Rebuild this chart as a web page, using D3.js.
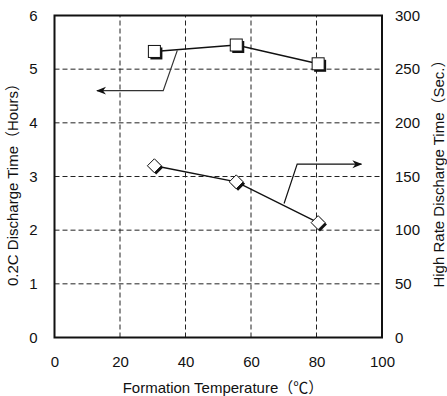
<!DOCTYPE html>
<html>
<head>
<meta charset="utf-8">
<script src="https://cdn.jsdelivr.net/npm/d3@7"></script>
<style>
  body { margin: 0; background: #fff; }
  text { font-family: "Liberation Sans", Arial, "Noto Sans CJK JP", sans-serif; fill: #111; }
</style>
</head>
<body>
<div id="chart"></div>
<script>
// formation temperature (°C)
const tempSquares = [30.5, 55.5, 80.5];
const hours = [5.33, 5.45, 5.1];
const tempDiamonds = [30.5, 55.5, 80.5];
const seconds = [160, 145, 107];

const xTicks = [0, 20, 40, 60, 80, 100];
const yLeftTicks = [0, 1, 2, 3, 4, 5, 6];
const yRightTicks = [0, 50, 100, 150, 200, 250, 300];

// leader lines: [x, y] in data units (left axis / right axis)
const leaderHours = [[37.5, 5.35], [33.2, 4.6], [13.0, 4.6]];
const leaderSec = [[70.1, 124.8], [74.1, 161.5], [93.7, 161.5]];

const width = 447, height = 396;
const margin = { top: 15.5, right: 65, bottom: 58.5, left: 54.5 };

const svg = d3.select('#chart').append('svg')
  .attr('width', width)
  .attr('height', height);

const x = d3.scaleLinear().domain([0, 100]).range([margin.left, width - margin.right]);
const yL = d3.scaleLinear().domain([0, 6]).range([height - margin.bottom, margin.top]);
const yR = d3.scaleLinear().domain([0, 300]).range([height - margin.bottom, margin.top]);

const defs = svg.append('defs');
defs.append('marker')
  .attr('id', 'arrow')
  .attr('viewBox', '0 0 10 10')
  .attr('refX', 9).attr('refY', 5)
  .attr('markerWidth', 10).attr('markerHeight', 10)
  .attr('markerUnits', 'userSpaceOnUse')
  .attr('orient', 'auto')
  .append('path')
  .attr('d', 'M0,1 L10,5 L0,9 L3,5 Z')
  .attr('fill', '#111');

// grid
const grid = svg.append('g');
xTicks.slice(1, -1).forEach(t => {
  grid.append('line')
    .attr('x1', x(t)).attr('x2', x(t))
    .attr('y1', yL(0)).attr('y2', yL(6))
    .attr('stroke', '#222').attr('stroke-dasharray', '5,3');
});
yLeftTicks.slice(1, -1).forEach(t => {
  grid.append('line')
    .attr('x1', x(0)).attr('x2', x(100))
    .attr('y1', yL(t)).attr('y2', yL(t))
    .attr('stroke', '#222').attr('stroke-dasharray', '5,3');
});

// axes
const fmt = d3.format('d');
const axisBottom = svg.append('g')
  .attr('transform', `translate(0,${yL(0)})`)
  .call(d3.axisBottom(x).tickValues(xTicks).tickFormat(fmt).tickSize(0).tickPadding(19));
const axisLeft = svg.append('g')
  .attr('transform', `translate(${x(0)},0)`)
  .call(d3.axisLeft(yL).tickValues(yLeftTicks).tickFormat(fmt).tickSize(0).tickPadding(17));
const axisRight = svg.append('g')
  .attr('transform', `translate(${x(100)},0)`)
  .call(d3.axisRight(yR).tickValues(yRightTicks).tickFormat(fmt).tickSize(0).tickPadding(13));
[axisBottom, axisLeft, axisRight].forEach(g => {
  g.select('.domain').remove();
  g.selectAll('text').style('font-size', '15px').attr('fill', '#111');
});

// frame
svg.append('rect')
  .attr('x', x(0)).attr('y', yL(6))
  .attr('width', x(100) - x(0)).attr('height', yL(0) - yL(6))
  .attr('fill', 'none').attr('stroke', '#111').attr('stroke-width', 2);

// series lines
const lineL = d3.line().x(d => x(d[0])).y(d => yL(d[1]));
const lineR = d3.line().x(d => x(d[0])).y(d => yR(d[1]));

svg.append('path')
  .datum(tempSquares.map((t, i) => [t, hours[i]]))
  .attr('d', lineL).attr('fill', 'none').attr('stroke', '#111').attr('stroke-width', 1.4);
svg.append('path')
  .datum(tempDiamonds.map((t, i) => [t, seconds[i]]))
  .attr('d', lineR).attr('fill', 'none').attr('stroke', '#111').attr('stroke-width', 1.4);

// leader lines
svg.append('path')
  .datum(leaderHours)
  .attr('d', lineL).attr('fill', 'none').attr('stroke', '#333').attr('stroke-width', 1.2)
  .attr('marker-end', 'url(#arrow)');
svg.append('path')
  .datum(leaderSec)
  .attr('d', lineR).attr('fill', 'none').attr('stroke', '#111').attr('stroke-width', 1.2)
  .attr('marker-end', 'url(#arrow)');

// square markers with shadow
const sq = 12;
const squares = svg.append('g').selectAll('g')
  .data(tempSquares.map((t, i) => [t, hours[i]]))
  .join('g')
  .attr('transform', d => `translate(${x(d[0])},${yL(d[1])})`);
squares.append('rect')
  .attr('x', -sq / 2 + 2).attr('y', -sq / 2 + 2)
  .attr('width', sq).attr('height', sq).attr('fill', '#111');
squares.append('rect')
  .attr('x', -sq / 2).attr('y', -sq / 2)
  .attr('width', sq).attr('height', sq)
  .attr('fill', '#fff').attr('stroke', '#111').attr('stroke-width', 1);

// diamond markers with shadow
const dh = 7;
const diamondPath = `M0,${-dh} L${dh},0 L0,${dh} L${-dh},0 Z`;
const diamonds = svg.append('g').selectAll('g')
  .data(tempDiamonds.map((t, i) => [t, seconds[i]]))
  .join('g')
  .attr('transform', d => `translate(${x(d[0])},${yR(d[1])})`);
diamonds.append('path')
  .attr('d', diamondPath).attr('transform', 'translate(1.8,1.8)').attr('fill', '#111');
diamonds.append('path')
  .attr('d', diamondPath)
  .attr('fill', '#fff').attr('stroke', '#111').attr('stroke-width', 1);

// axis titles
svg.append('text')
  .attr('x', 223).attr('y', 393)
  .attr('text-anchor', 'middle')
  .style('font-size', '15px')
  .text('Formation Temperature（℃）');

svg.append('text')
  .attr('transform', 'translate(18,181) rotate(-90)')
  .attr('text-anchor', 'middle')
  .style('font-size', '15px')
  .text('0.2C Discharge Time（Hours）');

svg.append('text')
  .attr('transform', 'translate(444,170) rotate(-90)')
  .attr('text-anchor', 'middle')
  .style('font-size', '15px')
  .text('High Rate Discharge Time（Sec.）');
</script>
</body>
</html>
